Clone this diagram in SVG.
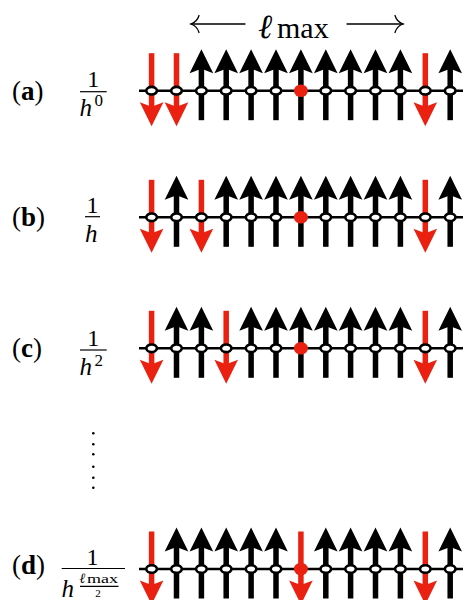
<svg xmlns="http://www.w3.org/2000/svg" xmlns:xlink="http://www.w3.org/1999/xlink" width="468" height="600" viewBox="0 0 468 600">
<style>
  .serif { font-family: "Liberation Serif", "DejaVu Serif", serif; fill: #000; }
  .it { font-style: italic; }
  .chain { stroke: #000; stroke-width: 2.6; fill: none; }
  .thin { stroke: #000; stroke-width: 1.3; fill: none; stroke-linecap: round; }
  .bar { stroke: #000; stroke-width: 1.2; }
  .site { fill: #fff; stroke: #000; stroke-width: 2.6; }
  .dot { fill: #EA2110; }
  .blk { fill: #000; }
  .red { fill: #EA2110; }
</style>
<defs>
  <g id="up">
    <rect class="blk" x="-2.75" y="-23" width="5.5" height="52.5"/>
    <path class="blk" d="M0,-41.5 L11.8,-17.5 L0,-22 L-11.8,-17.5 Z"/>
  </g>
  <g id="down">
    <rect class="red" x="-2.75" y="-37.5" width="5.5" height="54"/>
    <path class="red" d="M0,35.5 L11.8,11.5 L0,16 L-11.8,11.5 Z"/>
  </g>
  <ellipse id="s" class="site" cx="0" cy="0" rx="5.3" ry="3.8"/>
  <ellipse id="rd" class="dot" cx="0" cy="0" rx="7" ry="6.3"/>
</defs>
<rect width="468" height="600" fill="#fff"/>

<g id="title">
  <path class="thin" d="M191,24 H245"/>
  <path class="thin" d="M199,15.5 Q197,22 191,24 Q197,26 199,32.5"/>
  <text class="serif it" x="258" y="38" font-size="34">ℓ</text>
  <text class="serif" x="277" y="38" font-size="30">max</text>
  <path class="thin" d="M347,24 H403"/>
  <path class="thin" d="M395,15.5 Q397,22 403,24 Q397,26 395,32.5"/>
</g>

<g id="rowA">
  <text class="serif" x="12" y="99.5" font-size="27">(<tspan font-weight="bold">a</tspan>)</text>
  <text class="serif" x="93.3" y="86.5" font-size="24" text-anchor="middle">1</text>
  <line class="bar" x1="80" y1="91.7" x2="106.7" y2="91.7"/>
  <text class="serif it" x="79.5" y="115.5" font-size="25">h</text>
  <text class="serif" x="94.5" y="105.5" font-size="17">0</text>
  <line class="chain" x1="139" y1="90.7" x2="463" y2="90.7"/>
  <use href="#down" x="151.6" y="90.7"/>
  <use href="#down" x="176.5" y="90.7"/>
  <use href="#up" x="201.4" y="90.7"/>
  <use href="#up" x="226.2" y="90.7"/>
  <use href="#up" x="251.1" y="90.7"/>
  <use href="#up" x="276.0" y="90.7"/>
  <use href="#up" x="300.9" y="90.7"/>
  <use href="#up" x="325.8" y="90.7"/>
  <use href="#up" x="350.6" y="90.7"/>
  <use href="#up" x="375.5" y="90.7"/>
  <use href="#up" x="400.4" y="90.7"/>
  <use href="#down" x="425.3" y="90.7"/>
  <use href="#up" x="450.2" y="90.7"/>
  <use href="#s" x="151.6" y="90.7"/>
  <use href="#s" x="176.5" y="90.7"/>
  <use href="#s" x="201.4" y="90.7"/>
  <use href="#s" x="226.2" y="90.7"/>
  <use href="#s" x="251.1" y="90.7"/>
  <use href="#s" x="276.0" y="90.7"/>
  <use href="#rd" x="300.9" y="90.7"/>
  <use href="#s" x="325.8" y="90.7"/>
  <use href="#s" x="350.6" y="90.7"/>
  <use href="#s" x="375.5" y="90.7"/>
  <use href="#s" x="400.4" y="90.7"/>
  <use href="#s" x="425.3" y="90.7"/>
  <use href="#s" x="450.2" y="90.7"/>
</g>

<g id="rowB">
  <text class="serif" x="12" y="226" font-size="27">(<tspan font-weight="bold">b</tspan>)</text>
  <text class="serif" x="92.5" y="212.5" font-size="24" text-anchor="middle">1</text>
  <line class="bar" x1="85" y1="216.7" x2="100" y2="216.7"/>
  <text class="serif it" x="85" y="241.5" font-size="25">h</text>
  <line class="chain" x1="139" y1="217.3" x2="463" y2="217.3"/>
  <use href="#down" x="151.6" y="217.3"/>
  <use href="#up" x="176.5" y="217.3"/>
  <use href="#down" x="201.4" y="217.3"/>
  <use href="#up" x="226.2" y="217.3"/>
  <use href="#up" x="251.1" y="217.3"/>
  <use href="#up" x="276.0" y="217.3"/>
  <use href="#up" x="300.9" y="217.3"/>
  <use href="#up" x="325.8" y="217.3"/>
  <use href="#up" x="350.6" y="217.3"/>
  <use href="#up" x="375.5" y="217.3"/>
  <use href="#up" x="400.4" y="217.3"/>
  <use href="#down" x="425.3" y="217.3"/>
  <use href="#up" x="450.2" y="217.3"/>
  <use href="#s" x="151.6" y="217.3"/>
  <use href="#s" x="176.5" y="217.3"/>
  <use href="#s" x="201.4" y="217.3"/>
  <use href="#s" x="226.2" y="217.3"/>
  <use href="#s" x="251.1" y="217.3"/>
  <use href="#s" x="276.0" y="217.3"/>
  <use href="#rd" x="300.9" y="217.3"/>
  <use href="#s" x="325.8" y="217.3"/>
  <use href="#s" x="350.6" y="217.3"/>
  <use href="#s" x="375.5" y="217.3"/>
  <use href="#s" x="400.4" y="217.3"/>
  <use href="#s" x="425.3" y="217.3"/>
  <use href="#s" x="450.2" y="217.3"/>
</g>

<g id="rowC">
  <text class="serif" x="12" y="357" font-size="27">(<tspan font-weight="bold">c</tspan>)</text>
  <text class="serif" x="93.3" y="346" font-size="24" text-anchor="middle">1</text>
  <line class="bar" x1="80" y1="350" x2="106.7" y2="350"/>
  <text class="serif it" x="79.5" y="375" font-size="25">h</text>
  <text class="serif" x="94.5" y="365.5" font-size="17">2</text>
  <line class="chain" x1="139" y1="348.3" x2="463" y2="348.3"/>
  <use href="#down" x="151.6" y="348.3"/>
  <use href="#up" x="176.5" y="348.3"/>
  <use href="#up" x="201.4" y="348.3"/>
  <use href="#down" x="226.2" y="348.3"/>
  <use href="#up" x="251.1" y="348.3"/>
  <use href="#up" x="276.0" y="348.3"/>
  <use href="#up" x="300.9" y="348.3"/>
  <use href="#up" x="325.8" y="348.3"/>
  <use href="#up" x="350.6" y="348.3"/>
  <use href="#up" x="375.5" y="348.3"/>
  <use href="#up" x="400.4" y="348.3"/>
  <use href="#down" x="425.3" y="348.3"/>
  <use href="#up" x="450.2" y="348.3"/>
  <use href="#s" x="151.6" y="348.3"/>
  <use href="#s" x="176.5" y="348.3"/>
  <use href="#s" x="201.4" y="348.3"/>
  <use href="#s" x="226.2" y="348.3"/>
  <use href="#s" x="251.1" y="348.3"/>
  <use href="#s" x="276.0" y="348.3"/>
  <use href="#rd" x="300.9" y="348.3"/>
  <use href="#s" x="325.8" y="348.3"/>
  <use href="#s" x="350.6" y="348.3"/>
  <use href="#s" x="375.5" y="348.3"/>
  <use href="#s" x="400.4" y="348.3"/>
  <use href="#s" x="425.3" y="348.3"/>
  <use href="#s" x="450.2" y="348.3"/>
</g>

<g id="vdots">
  <circle cx="93.3" cy="433.3" r="1.3"/>
  <circle cx="93.3" cy="444.3" r="1.3"/>
  <circle cx="93.3" cy="454.3" r="1.3"/>
  <circle cx="93.3" cy="466.7" r="1.3"/>
  <circle cx="93.3" cy="477.7" r="1.3"/>
  <circle cx="93.3" cy="487.7" r="1.3"/>
</g>

<g id="rowD">
  <text class="serif" x="12" y="574" font-size="27">(<tspan font-weight="bold">d</tspan>)</text>
  <text class="serif" x="92.5" y="564.5" font-size="24" text-anchor="middle">1</text>
  <line class="bar" x1="61.7" y1="568.5" x2="125" y2="568.5"/>
  <text class="serif it" x="61.5" y="596.5" font-size="25">h</text>
  <text class="serif it" x="79.5" y="582.5" font-size="14">ℓ</text>
  <text class="serif" x="87" y="582.5" font-size="13" textLength="31" lengthAdjust="spacingAndGlyphs">max</text>
  <line class="bar" x1="80" y1="586.3" x2="118.5" y2="586.3" stroke-width="0.8"/>
  <text class="serif" x="98" y="597" font-size="11" text-anchor="middle">2</text>
  <line class="chain" x1="139" y1="569" x2="463" y2="569"/>
  <use href="#down" x="151.6" y="569"/>
  <use href="#up" x="176.5" y="569"/>
  <use href="#up" x="201.4" y="569"/>
  <use href="#up" x="226.2" y="569"/>
  <use href="#up" x="251.1" y="569"/>
  <use href="#up" x="276.0" y="569"/>
  <use href="#s" x="151.6" y="569"/>
  <use href="#s" x="176.5" y="569"/>
  <use href="#s" x="201.4" y="569"/>
  <use href="#s" x="226.2" y="569"/>
  <use href="#s" x="251.1" y="569"/>
  <use href="#s" x="276.0" y="569"/>
  <use href="#rd" x="300.9" y="569"/>
  <use href="#down" x="300.9" y="569"/>
  <use href="#up" x="325.8" y="569"/>
  <use href="#up" x="350.6" y="569"/>
  <use href="#up" x="375.5" y="569"/>
  <use href="#up" x="400.4" y="569"/>
  <use href="#down" x="425.3" y="569"/>
  <use href="#up" x="450.2" y="569"/>
  <use href="#s" x="325.8" y="569"/>
  <use href="#s" x="350.6" y="569"/>
  <use href="#s" x="375.5" y="569"/>
  <use href="#s" x="400.4" y="569"/>
  <use href="#s" x="425.3" y="569"/>
  <use href="#s" x="450.2" y="569"/>
</g>
</svg>
